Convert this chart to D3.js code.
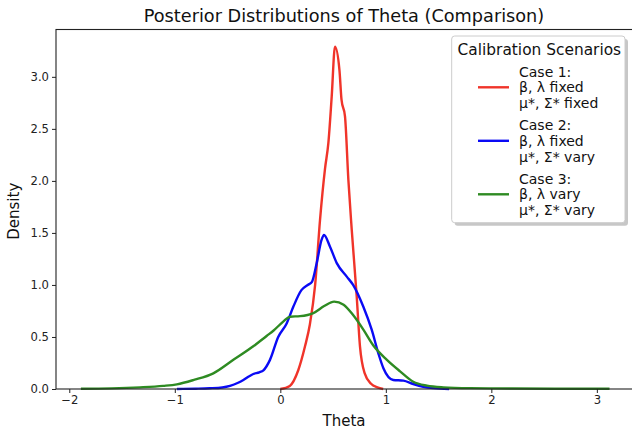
<!DOCTYPE html>
<html>
<head>
<meta charset="utf-8">
<script src="https://cdn.jsdelivr.net/npm/d3@7"></script>
<style>
  html, body { margin: 0; padding: 0; background: #fff; overflow: hidden; }
  svg { display: block; font-family: "DejaVu Sans", sans-serif; }
</style>
</head>
<body>
<svg id="chart" width="632" height="429"></svg>
<script>
// ---- data ----
const case1X = [0.0, 0.09, 0.17, 0.234, 0.28, 0.33, 0.376, 0.424, 0.455, 0.487, 0.518, 0.56, 0.58, 0.613, 0.645, 0.677, 0.724, 0.755, 0.8, 0.86, 0.92, 0.975];
const case1Y = [0.0, 0.03, 0.18, 0.41, 0.62, 1.0, 1.62, 2.12, 2.36, 2.81, 3.29, 3.07, 2.78, 2.62, 2.01, 1.53, 0.89, 0.41, 0.15, 0.05, 0.015, 0.0];

const case2X = [-0.98, -0.8, -0.67, -0.55, -0.477, -0.4, -0.35, -0.3, -0.256, -0.2, -0.16, -0.098, -0.02, 0.06, 0.123, 0.2, 0.26, 0.3, 0.345, 0.39, 0.414, 0.47, 0.535, 0.63, 0.69, 0.787, 0.866, 0.93, 0.977, 1.07, 1.166, 1.26, 1.355, 1.45, 1.6];
const case2Y = [0.0, 0.003, 0.007, 0.015, 0.03, 0.06, 0.087, 0.12, 0.144, 0.16, 0.18, 0.28, 0.5, 0.63, 0.79, 0.95, 1.0, 1.03, 1.21, 1.43, 1.48, 1.37, 1.21, 1.08, 1.0, 0.79, 0.57, 0.34, 0.2, 0.087, 0.08, 0.048, 0.022, 0.008, 0.0];

const case3X = [-1.89, -1.6, -1.33, -1.11, -0.98, -0.82, -0.635, -0.445, -0.256, -0.13, -0.066, 0.03, 0.092, 0.187, 0.313, 0.42, 0.51, 0.6, 0.69, 0.787, 0.88, 1.01, 1.135, 1.26, 1.39, 1.545, 1.8, 2.2, 2.6, 3.12];
const case3Y = [0.002, 0.006, 0.016, 0.03, 0.045, 0.087, 0.15, 0.28, 0.41, 0.51, 0.56, 0.65, 0.695, 0.7, 0.73, 0.8, 0.84, 0.81, 0.71, 0.57, 0.42, 0.28, 0.17, 0.07, 0.032, 0.016, 0.008, 0.005, 0.003, 0.002];

const seriesLabels = [
  ["Case 1:", "β, λ fixed", "μ*, Σ* fixed"],
  ["Case 2:", "β, λ fixed", "μ*, Σ* vary"],
  ["Case 3:", "β, λ vary", "μ*, Σ* vary"]
];
const seriesColors = ["#f0342a", "#0a0af5", "#2e8b22"];
const xTicks = [-2, -1, 0, 1, 2, 3];
const yTicks = [0.0, 0.5, 1.0, 1.5, 2.0, 2.5, 3.0];
const titleText = "Posterior Distributions of Theta (Comparison)";
const xLabel = "Theta";
const yLabel = "Density";
const legendTitle = "Calibration Scenarios";

// ---- layout ----
const L = 56, R = 638, T = 29.5, B = 389;
const svg = d3.select("#chart");
const x = d3.scaleLinear().domain([-2.126, 3.39]).range([L, R]);
const y = d3.scaleLinear().domain([0, 3.455]).range([B, T]);

const series = [
  {x: case1X, y: case1Y},
  {x: case2X, y: case2Y},
  {x: case3X, y: case3Y}
];

const line = d3.line().x(d => x(d[0])).y(d => y(d[1])).curve(d3.curveMonotoneX);

const plot = svg.append("g");
series.forEach((s, i) => {
  const pts = s.x.map((v, j) => [v, s.y[j]]);
  plot.append("path")
    .attr("d", line(pts))
    .attr("fill", "none")
    .attr("stroke", seriesColors[i])
    .attr("stroke-width", 2.4)
    .attr("stroke-linejoin", "round")
    .attr("stroke-linecap", "butt");
});

// axes
const xAxis = d3.axisBottom(x).tickValues(xTicks).tickSize(4).tickPadding(3).tickFormat(d3.format("d"));
const yAxis = d3.axisLeft(y).tickValues(yTicks).tickSize(4).tickPadding(3).tickFormat(d3.format(".1f"));

const gx = svg.append("g").attr("transform", `translate(0,${B})`).call(xAxis);
const gy = svg.append("g").attr("transform", `translate(${L},0)`).call(yAxis);
[gx, gy].forEach(g => {
  g.select(".domain").remove();
  g.selectAll(".tick line").attr("stroke", "#222").attr("stroke-width", 1);
  g.selectAll(".tick text").attr("fill", "#222").style("font-size", "11.6px").style("font-family", "DejaVu Sans");
});

// spines
svg.append("rect")
  .attr("x", L).attr("y", T).attr("width", R - L).attr("height", B - T)
  .attr("fill", "none").attr("stroke", "#222").attr("stroke-width", 1.1);

// title and labels
svg.append("text").attr("x", (L + R) / 2 - 3).attr("y", 21.5)
  .attr("text-anchor", "middle").style("font-size", "17.7px").attr("fill", "#111").text(titleText);
svg.append("text").attr("x", (L + R) / 2 - 3).attr("y", 426)
  .attr("text-anchor", "middle").style("font-size", "15px").attr("fill", "#111").text(xLabel);
svg.append("text").attr("transform", `translate(19,${(T + B) / 2 + 2}) rotate(-90)`)
  .attr("text-anchor", "middle").style("font-size", "15px").attr("fill", "#111").text(yLabel);

// legend
const lg = svg.append("g");
const lx = 451.7, ly = 36, lw = 173.3, lh = 186.7;
lg.append("rect").attr("x", lx + 3).attr("y", ly + 3).attr("width", lw).attr("height", lh)
  .attr("rx", 3).attr("fill", "#999").attr("opacity", 0.55);
lg.append("rect").attr("x", lx).attr("y", ly).attr("width", lw).attr("height", lh)
  .attr("rx", 3).attr("fill", "#fff").attr("stroke", "#ccc").attr("stroke-width", 1);
lg.append("text").attr("x", lx + lw / 2 + 1).attr("y", 49).attr("dy", "0.36em")
  .attr("text-anchor", "middle").style("font-size", "15.4px").attr("fill", "#111").text(legendTitle);

seriesLabels.forEach((lines, i) => {
  const cy = 87.3 + i * 53.5;
  lg.append("line").attr("x1", 478).attr("x2", 509).attr("y1", cy).attr("y2", cy)
    .attr("stroke", seriesColors[i]).attr("stroke-width", 2.4);
  lines.forEach((t, k) => {
    lg.append("text").attr("x", 519).attr("y", cy + (k - 1) * 15.8).attr("dy", "0.36em")
      .style("font-size", "14px").attr("fill", "#111").text(t);
  });
});
</script>
</body>
</html>
